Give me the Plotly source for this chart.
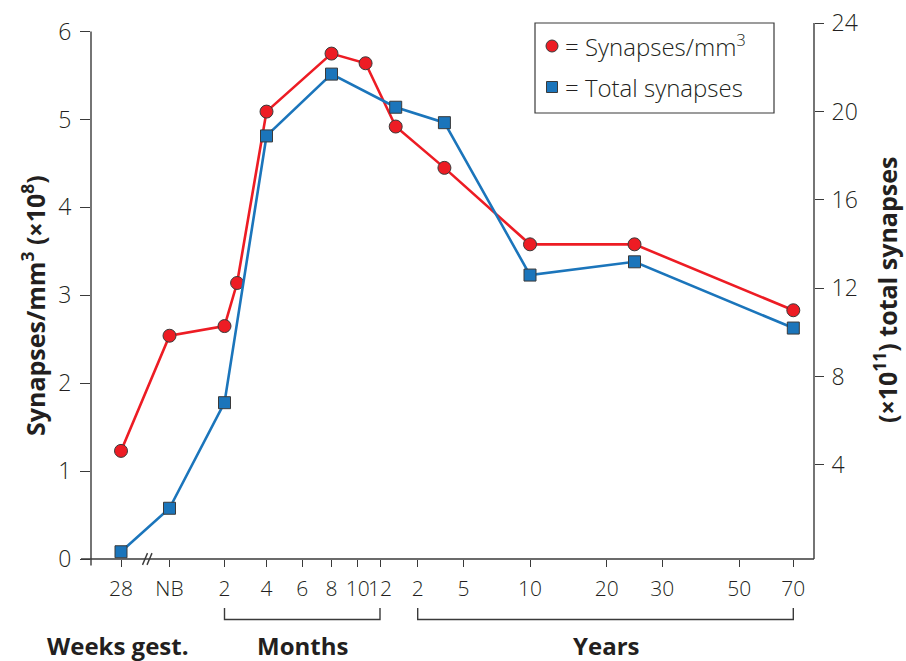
import numpy as np
import plotly.graph_objects as go

# ---- axis scale (hand-drawn, non-linear age axis) ----
tick_age_months = [-2.8, 0, 2, 4, 6, 8, 10, 12, 24, 60, 120, 240, 360, 600, 840]
tick_labels = ["28", "NB", "2", "4", "6", "8", "10", "12", "2", "5", "10", "20", "30", "50", "70"]
tick_scale_pos = [30, 78.5, 133.5, 175.5, 211.3, 240.5, 266.8, 289, 326.7, 372.5, 439, 515.7, 571.3, 648.3, 702.3]

# ---- data ----
density_age_months = [-2.8, 0, 2, 2.6, 4, 8, 10.7, 17, 45, 120, 300, 840]
density = [1.23, 2.54, 2.65, 3.14, 5.09, 5.75, 5.64, 4.92, 4.45, 3.58, 3.58, 2.83]  # synapses/mm3 (x10^8)

total_age_months = [-2.8, 0, 2, 4, 8, 17, 45, 120, 300, 840]
total = [0.07, 2.04, 6.82, 18.9, 21.7, 20.2, 19.5, 12.6, 13.2, 10.2]  # x10^11 total synapses

left_ticks = [0, 1, 2, 3, 4, 5, 6]
right_ticks = [4, 8, 12, 16, 20, 24]

RED = "#ED1C24"
BLUE = "#1B75BB"
EDGE = "#3a3a3a"
AX = "#3a3a3a"
TXT = "#231F20"
FONT = "Open Sans"

X_MAX = 723.0
Y1 = [0, 6.098]
Y2 = [-0.258, 24.014]


def to_scale(age):
    return np.interp(age, tick_age_months, tick_scale_pos)


fig = go.Figure()

fig.add_trace(go.Scatter(
    x=to_scale(total_age_months), y=total, yaxis="y2", mode="lines+markers",
    name="Total synapses", showlegend=False,
    line=dict(color=BLUE, width=2.6),
    marker=dict(symbol="square", size=12, color=BLUE, line=dict(color=EDGE, width=1)),
    cliponaxis=False,
))
fig.add_trace(go.Scatter(
    x=to_scale(density_age_months), y=density, mode="lines+markers",
    name="Synapses/mm3", showlegend=False,
    line=dict(color=RED, width=2.6),
    marker=dict(symbol="circle", size=13, color=RED, line=dict(color=EDGE, width=1)),
    cliponaxis=False,
))

tickfont = dict(family=FONT, size=23, color=TXT, weight=300)
xtickfont = dict(family=FONT, size=21, color=TXT, weight=300)

fig.update_layout(
    width=906, height=661,
    margin=dict(l=91, r=92, t=23, b=102, autoexpand=False),
    paper_bgcolor="white", plot_bgcolor="white",
    font=dict(family=FONT, color=TXT),
    xaxis=dict(range=[0, X_MAX], tickmode="array", tickvals=list(to_scale(tick_age_months)),
               ticktext=tick_labels, ticks="outside", ticklen=7, tickwidth=1.3, tickcolor=AX,
               showline=False, showgrid=False, zeroline=False, tickfont=xtickfont,
               tickangle=0, automargin=False, ticklabelstandoff=4),
    yaxis=dict(range=Y1, tickmode="array", tickvals=left_ticks, ticks="outside", ticklen=10,
               tickwidth=1.3, tickcolor=AX, showline=False, showgrid=False, zeroline=False,
               tickfont=tickfont, automargin=False, ticklabelstandoff=4),
    yaxis2=dict(range=Y2, overlaying="y", side="right", tickmode="array", tickvals=right_ticks,
                ticks="outside", ticklen=9, tickwidth=1.3, tickcolor=AX, showline=False,
                showgrid=False, zeroline=False, tickfont=tickfont, automargin=False,
                ticklabelstandoff=3),
)

shapes = []
line_style = dict(color=AX, width=1.4)
# axis lines
y6 = 6 / Y1[1]
shapes.append(dict(type="line", xref="paper", yref="paper", x0=-10 / X_MAX, x1=1, y0=0, y1=0, line=line_style, layer="below"))
shapes.append(dict(type="line", xref="paper", yref="paper", x0=0, x1=0, y0=-0.012, y1=y6, line=line_style, layer="below"))
shapes.append(dict(type="line", xref="paper", yref="paper", x0=1, x1=1, y0=0, y1=1, line=line_style, layer="below"))
# axis break marks
for bx in (54.0, 58.5):
    shapes.append(dict(type="line", xref="paper", yref="paper", x0=(bx - 2.5) / X_MAX, x1=(bx + 2.5) / X_MAX,
                       y0=-0.011, y1=0.011, line=line_style))

# brackets under the axis
def bracket(a0, a1):
    p0 = float(to_scale(a0)) / X_MAX
    p1 = float(to_scale(a1)) / X_MAX
    yt, yb = -49 / 536, -60.5 / 536
    path = f"M {p0},{yt} L {p0},{yb} L {p1},{yb} L {p1},{yt}"
    return dict(type="path", xref="paper", yref="paper", path=path, line=line_style)

shapes.append(bracket(2, 12))
shapes.append(bracket(24, 840))

# legend box and symbols
def px(xp):
    return (xp - 91) / X_MAX

def py(yp):
    return (559 - yp) / 536

shapes.append(dict(type="rect", xref="paper", yref="paper", x0=px(535), x1=px(774), y0=py(113), y1=py(23),
                   line=dict(color=AX, width=1.2), fillcolor="white", layer="below"))
shapes.append(dict(type="circle", xref="paper", yref="paper", x0=px(546), x1=px(558), y0=py(52), y1=py(40),
                   line=dict(color=EDGE, width=1), fillcolor=RED))
shapes.append(dict(type="rect", xref="paper", yref="paper", x0=px(546.5), x1=px(557.5), y0=py(92.5), y1=py(81.5),
                   line=dict(color=EDGE, width=1), fillcolor=BLUE))
fig.update_layout(shapes=shapes)

ann = []
ann.append(dict(text="= Synapses/mm<sup>3</sup>", x=px(563), y=py(46), xref="paper", yref="paper",
                xanchor="left", yanchor="middle", showarrow=False,
                font=dict(family=FONT, size=24, color=TXT, weight=300)))
ann.append(dict(text="= Total synapses", x=px(563), y=py(87), xref="paper", yref="paper",
                xanchor="left", yanchor="middle", showarrow=False,
                font=dict(family=FONT, size=24, color=TXT, weight=300)))
title_font = dict(family=FONT, size=25, color=TXT, weight="bold")
ann.append(dict(text="Synapses/mm<sup>3</sup> (×10<sup>8</sup>)", x=px(33), y=py(306), xref="paper", yref="paper",
                textangle=-90, xanchor="center", yanchor="middle", showarrow=False, font=title_font))
ann.append(dict(text="(×10<sup>11</sup>) total synapses", x=px(885), y=py(290), xref="paper", yref="paper",
                textangle=-90, xanchor="center", yanchor="middle", showarrow=False, font=title_font))
bottom_font = dict(family=FONT, size=24, color=TXT, weight="bold")
for label, xc in (("Weeks gest.", 118), ("Months", 302.5), ("Years", 606)):
    ann.append(dict(text=label, x=px(xc), y=py(645), xref="paper", yref="paper",
                    xanchor="center", yanchor="middle", showarrow=False, font=bottom_font))
fig.update_layout(annotations=ann)

fig.write_html("out.html", config={"displayModeBar": False},
               post_script="document.body.style.margin='0';")
